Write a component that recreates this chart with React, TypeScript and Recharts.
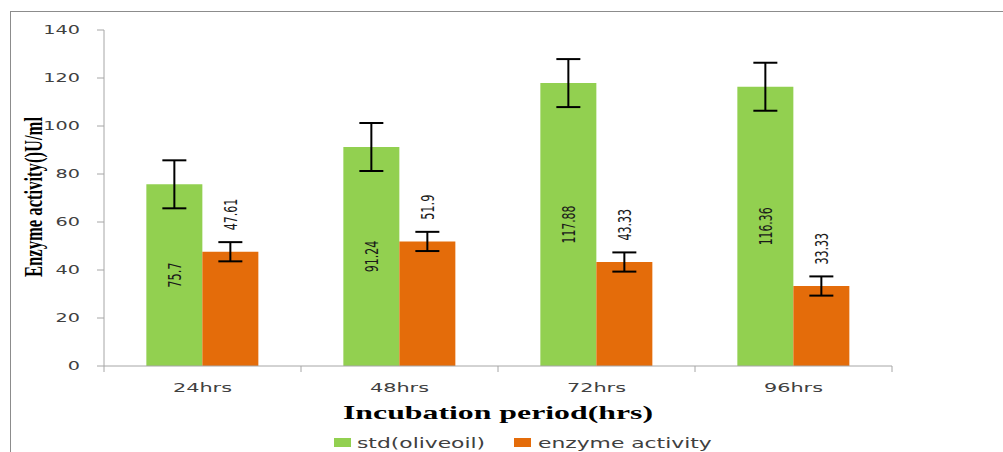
import { BarChart, Bar, XAxis, YAxis, ErrorBar, LabelList, Legend, Label } from 'recharts';

const periods = ['24hrs', '48hrs', '72hrs', '96hrs'];
const stdOliveOil = [75.7, 91.24, 117.88, 116.36];
const stdErr = [10, 10, 10, 10];
const enzymeActivity = [47.61, 51.9, 43.33, 33.33];
const enzymeErr = [4, 4, 4, 4];
const yTicks = [0, 20, 40, 60, 80, 100, 120, 140];

const GREEN = '#92d050';
const ORANGE = '#e46c0a';
const AXIS = '#a6a6a6';

const data = periods.map((p, i) => ({
  period: p,
  std: stdOliveOil[i],
  stdErr: stdErr[i],
  enzyme: enzymeActivity[i],
  enzymeErr: enzymeErr[i],
}));

const labelFont = '"Liberation Sans Narrow", "DejaVu Sans Condensed", "Liberation Sans", sans-serif';

function InsideLabel(props: any) {
  const { x, y, width, height, value } = props;
  const cx = x + width / 2;
  const cy = y + height / 2;
  const txt = String(value);
  return (
    <text
      x={cx}
      y={cy}
      transform={`rotate(-90 ${cx} ${cy})`}
      textAnchor="middle"
      dominantBaseline="central"
      fontFamily={labelFont}
      fontSize={18}
      fill="#1a1a1a"
      textLength={txt.length * 6.3}
      lengthAdjust="spacingAndGlyphs"
    >
      {txt}
    </text>
  );
}

function AboveLabel(props: any) {
  const { x, y, width, height, value, index } = props;
  const perUnit = height / value;
  const errTop = y - enzymeErr[index] * perUnit;
  const txt = String(value);
  const len = txt.length * 6.3;
  const cx = x + width / 2;
  const cy = errTop - 12 - len / 2;
  return (
    <text
      x={cx}
      y={cy}
      transform={`rotate(-90 ${cx} ${cy})`}
      textAnchor="middle"
      dominantBaseline="central"
      fontFamily={labelFont}
      fontSize={18}
      fill="#1a1a1a"
      textLength={len}
      lengthAdjust="spacingAndGlyphs"
    >
      {txt}
    </text>
  );
}

function YTick(props: any) {
  const { x, y, payload } = props;
  return (
    <g>
      <line x1={x - 7} x2={x} y1={y} y2={y} stroke={AXIS} />
      <text
        transform={`translate(${x - 24},${y}) scale(1.6,1)`}
        textAnchor="end"
        dominantBaseline="central"
        fontFamily="DejaVu Sans, sans-serif"
        fontSize={12}
        fill="#404040"
      >
        {payload.value}
      </text>
    </g>
  );
}

function XTick(props: any) {
  const { x, y, payload, index } = props;
  const half = payload.offset || 98.5;
  return (
    <g>
      <line x1={x - half} x2={x - half} y1={y} y2={y + 6} stroke={AXIS} />
      {index === periods.length - 1 && (
        <line x1={x + half} x2={x + half} y1={y} y2={y + 6} stroke={AXIS} />
      )}
      <text
        transform={`translate(${x},${y + 22}) scale(1.6,1)`}
        textAnchor="middle"
        dominantBaseline="central"
        fontFamily="DejaVu Sans, sans-serif"
        fontSize={13}
        fill="#404040"
      >
        {payload.value}
      </text>
    </g>
  );
}

function LegendBox() {
  return (
    <svg width={1003} height={20}>
      <rect x={334} y={7} width={17} height={9} fill={GREEN} />
      <text
        transform="translate(357,12) scale(1.56,1)"
        dominantBaseline="central"
        fontFamily="DejaVu Sans, sans-serif"
        fontSize={14}
        fill="#404040"
      >
        std(oliveoil)
      </text>
      <rect x={514} y={7} width={17} height={9} fill={ORANGE} />
      <text
        transform="translate(538,12) scale(1.56,1)"
        dominantBaseline="central"
        fontFamily="DejaVu Sans, sans-serif"
        fontSize={14}
        fill="#404040"
      >
        enzyme activity
      </text>
    </svg>
  );
}

export default function App() {
  return (
    <div style={{ position: 'absolute', left: 0, top: 0, width: 1003, height: 452, background: '#fff', overflow: 'hidden' }}>
      <div
        style={{
          position: 'absolute',
          left: 10,
          top: 11,
          width: 1003,
          height: 452,
          borderTop: '1.5px solid #8c8c8c',
          borderLeft: '1.5px solid #8c8c8c',
        }}
      />
      <BarChart
        width={1003}
        height={452}
        data={data}
        margin={{ top: 30, right: 111, left: 0, bottom: 10 }}
        barCategoryGap="21.5%"
        barGap={0}
      >
        <XAxis
          dataKey="period"
          height={56}
          axisLine={{ stroke: AXIS }}
          tickLine={false}
          tickSize={0}
          tickMargin={0}
          tick={<XTick />}
          interval={0}
        >
          <Label
            content={() => (
              <text
                x={498}
                y={412}
                textAnchor="middle"
                dominantBaseline="central"
                fontFamily="Liberation Serif, serif"
                fontWeight="bold"
                fontSize={19}
                fill="#000"
                textLength={310}
                lengthAdjust="spacingAndGlyphs"
              >
                Incubation period(hrs)
              </text>
            )}
          />
        </XAxis>
        <YAxis
          width={104}
          domain={[0, 140]}
          ticks={yTicks}
          axisLine={{ stroke: AXIS }}
          tickLine={false}
          tickSize={0}
          tickMargin={0}
          tick={<YTick />}
        >
          <Label
            content={() => (
              <text
                x={33}
                y={197}
                transform="rotate(-90 33 197)"
                textAnchor="middle"
                dominantBaseline="central"
                fontFamily="Liberation Serif, serif"
                fontWeight="bold"
                fontSize={26}
                fill="#000"
                textLength={160}
                lengthAdjust="spacingAndGlyphs"
              >
                Enzyme activity()U/ml
              </text>
            )}
          />
        </YAxis>
        <Legend
          content={() => <LegendBox />}
          wrapperStyle={{ position: 'absolute', top: 431, left: 0, width: 1003, height: 20 }}
        />
        <Bar dataKey="std" name="std(oliveoil)" fill={GREEN} isAnimationActive={false}>
          <ErrorBar dataKey="stdErr" width={12} stroke="#000" strokeWidth={2} />
          <LabelList dataKey="std" content={<InsideLabel />} />
        </Bar>
        <Bar dataKey="enzyme" name="enzyme activity" fill={ORANGE} isAnimationActive={false}>
          <ErrorBar dataKey="enzymeErr" width={12} stroke="#000" strokeWidth={2} />
          <LabelList dataKey="enzyme" content={<AboveLabel />} />
        </Bar>
      </BarChart>
    </div>
  );
}
